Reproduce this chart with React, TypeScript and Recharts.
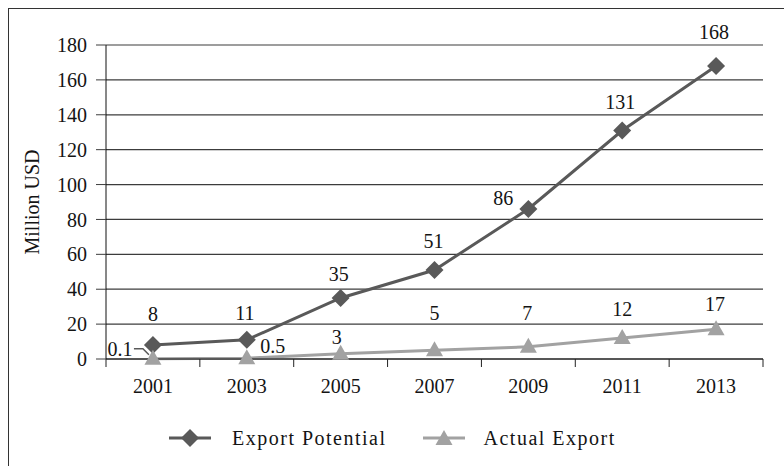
import React from "react";
import {
  LineChart,
  Line,
  XAxis,
  YAxis,
  CartesianGrid,
  LabelList,
  Label,
  Legend,
} from "recharts";

const years = ["2001", "2003", "2005", "2007", "2009", "2011", "2013"];
const exportPotential = [8, 11, 35, 51, 86, 131, 168];
const actualExport = [0.1, 0.5, 3, 5, 7, 12, 17];
const yTicks = [0, 20, 40, 60, 80, 100, 120, 140, 160, 180];
const seriesNames = ["Export Potential", "Actual Export"];

const data = years.map((year, i) => ({
  year,
  potential: exportPotential[i],
  actual: actualExport[i],
}));

const W = 775;
const H = 457;
const MARGIN = { top: 36, right: 21, left: 0, bottom: 13 };
const Y_AXIS_W = 97;
const X_AXIS_H = 64;
const LEGEND_H = 30;
const FONT = '"Liberation Serif", "Times New Roman", serif';
const TEXT = "#141414";
const DARK = "#595959";
const LIGHT = "#a2a2a2";
const GRID = "#3c3c3c";
const MARK = 9;

// where each value label sits relative to its point (text centre)
const potentialOffsets = [
  [0, -31], [-2, -27], [-2, -24], [-1, -29], [-25, -11], [-2, -28], [-2, -34],
];
const actualOffsets = [
  [-33, -10], [26, -12], [-4, -17], [0, -37], [-1, -34], [0, -29], [-1, -25],
];

// width of one category slot, used for half-slot padding and boundary ticks
const step = (W - MARGIN.right - MARGIN.left - Y_AXIS_W) / years.length;

const Diamond = ({ cx, cy }: any) => (
  <polygon
    points={`${cx},${cy - MARK} ${cx + MARK},${cy} ${cx},${cy + MARK} ${cx - MARK},${cy}`}
    fill={DARK}
  />
);

const Triangle = ({ cx, cy }: any) => (
  <polygon
    points={`${cx},${cy - 9} ${cx + 8.5},${cy + 6} ${cx - 8.5},${cy + 6}`}
    fill={LIGHT}
  />
);

const makeLabel = (offsets: number[][], leader: boolean) => (props: any) => {
  const { x, y, value, index } = props;
  const [dx, dy] = offsets[index] || [0, -25];
  const tx = x + dx;
  const ty = y + dy;
  return (
    <g>
      {leader && index === 0 && (
        <polyline
          points={`${tx + 14},${ty} ${tx + 23},${ty} ${x - 4},${y - 4}`}
          fill="none"
          stroke={DARK}
          strokeWidth={1.5}
        />
      )}
      <text
        x={tx}
        y={ty}
        textAnchor="middle"
        dominantBaseline="central"
        fontFamily={FONT}
        fontSize={20}
        fill={TEXT}
      >
        {value}
      </text>
    </g>
  );
};

const XTick = ({ x, y, payload, index }: any) => {
  const axisY = y - 8;
  const left = x - step / 2;
  return (
    <g>
      <line x1={left} x2={left} y1={axisY} y2={axisY + 8} stroke="#222" />
      {index === years.length - 1 && (
        <line
          x1={x + step / 2}
          x2={x + step / 2}
          y1={axisY}
          y2={axisY + 8}
          stroke="#222"
        />
      )}
      <text
        x={x}
        y={axisY + 34}
        textAnchor="middle"
        fontFamily={FONT}
        fontSize={20}
        fill={TEXT}
      >
        {payload.value}
      </text>
    </g>
  );
};

const YLabel = ({ viewBox }: any) => {
  const cx = viewBox.x + 23;
  const cy = viewBox.y + viewBox.height / 2;
  return (
    <text
      x={cx}
      y={cy}
      transform={`rotate(-90, ${cx}, ${cy})`}
      textAnchor="middle"
      dominantBaseline="central"
      fontFamily={FONT}
      fontSize={20}
      fill={TEXT}
    >
      Million USD
    </text>
  );
};

const LegendContent = () => (
  <div
    style={{
      height: LEGEND_H,
      display: "flex",
      alignItems: "center",
      paddingLeft: 160,
      fontFamily: FONT,
      fontSize: 20,
      letterSpacing: 1.5,
      color: TEXT,
    }}
  >
    <svg width={42} height={22}>
      <line x1={0} x2={42} y1={11} y2={11} stroke={DARK} strokeWidth={3} />
      <Diamond cx={21} cy={11} />
    </svg>
    <span style={{ marginLeft: 21, marginRight: 36 }}>{seriesNames[0]}</span>
    <svg width={42} height={22}>
      <line x1={0} x2={42} y1={11} y2={11} stroke={LIGHT} strokeWidth={3} />
      <Triangle cx={21} cy={12} />
    </svg>
    <span style={{ marginLeft: 19 }}>{seriesNames[1]}</span>
  </div>
);

export default function App() {
  return (
    <div
      style={{
        position: "fixed",
        left: 8,
        top: 8,
        width: 776,
        height: 458,
        borderTop: "1px solid #333",
        borderLeft: "1px solid #333",
        background: "#fff",
      }}
    >
      <LineChart width={W} height={H} data={data} margin={MARGIN}>
        <CartesianGrid vertical={false} stroke={GRID} strokeWidth={1.2} />
        <XAxis
          dataKey="year"
          height={X_AXIS_H}
          padding={{ left: step / 2, right: step / 2 }}
          tickLine={false}
          tickSize={8}
          tickMargin={0}
          axisLine={{ stroke: "#111" }}
          tick={<XTick />}
          interval={0}
        />
        <YAxis
          width={Y_AXIS_W}
          domain={[0, 180]}
          ticks={yTicks}
          interval={0}
          tickSize={10}
          tickMargin={9}
          axisLine={{ stroke: "#111" }}
          tickLine={{ stroke: GRID }}
          tick={{ fill: TEXT, fontSize: 20, fontFamily: FONT }}
        >
          <Label content={<YLabel />} />
        </YAxis>
        <Legend
          verticalAlign="bottom"
          height={LEGEND_H}
          content={<LegendContent />}
        />
        <Line
          dataKey="potential"
          name={seriesNames[0]}
          stroke={DARK}
          strokeWidth={3}
          dot={<Diamond />}
          isAnimationActive={false}
        >
          <LabelList dataKey="potential" content={makeLabel(potentialOffsets, false)} />
        </Line>
        <Line
          dataKey="actual"
          name={seriesNames[1]}
          stroke={LIGHT}
          strokeWidth={3}
          dot={<Triangle />}
          isAnimationActive={false}
        >
          <LabelList dataKey="actual" content={makeLabel(actualOffsets, true)} />
        </Line>
      </LineChart>
    </div>
  );
}
